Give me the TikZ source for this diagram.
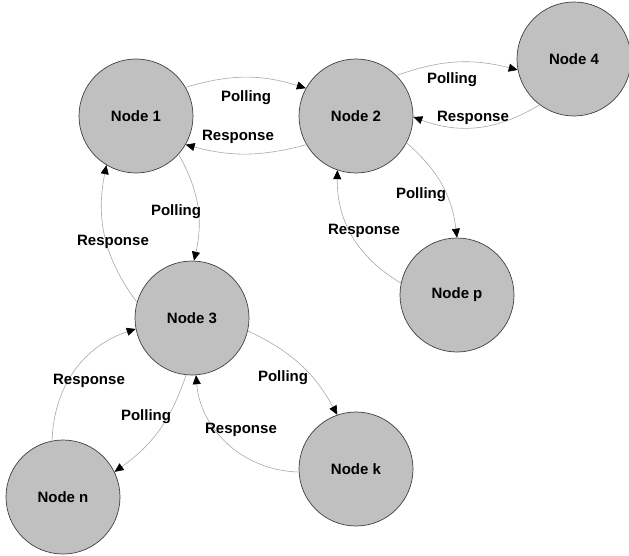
\documentclass[tikz,border=0pt]{standalone}
\usepackage{fontspec}
\setmainfont{Liberation Sans}
\usetikzlibrary{arrows.meta}
\definecolor{nodegray}{HTML}{C0C0C0}
\definecolor{linegray}{HTML}{A8A8A8}
\tikzset{
  station/.style={circle, draw=black!75, line width=0.7pt, fill=nodegray, minimum size=114pt, inner sep=0pt, font=\bfseries\fontsize{15}{18}\selectfont},
  msg/.style={font=\bfseries\fontsize{15}{18}\selectfont, inner sep=0pt, anchor=base},
  link/.style={draw=linegray, line width=0.6pt, -{Triangle[length=9pt,width=8pt,color=black]}}
}
\begin{document}
\begin{tikzpicture}[x=1pt,y=1pt]
                \useasboundingbox ( 0, 0 ) rectangle ( 629, -556 );
% узлы
                \node [station] (n1) at ( 136, -116 ) {Node 1};
                \node [station] (n2) at ( 356, -116 ) {Node 2};
                \node [station] (n4) at ( 574, -59 ) {Node 4};
                \node [station] (np) at ( 457, -295 ) {Node p};
                \node [station] (n3) at ( 192, -318 ) {Node 3};
                \node [station] (nk) at ( 356, -469 ) {Node k};
                \node [station] (nn) at ( 63, -497 ) {Node n};

% опрос и ответ
                \draw [link] (n1.30) to [bend left=17] (n2.151);
                \draw [link] (n2.210) to [bend left=15] (n1.330);
                \draw [link] (n2.45) to [bend left=17] (n4.191);
                \draw [link] (n4.233) to [bend left=26] (n2.359);
                \draw [link] (n2.332) to [bend left=21] (np.90);
                \draw [link] (np.168) to [bend left=30] (n2.251);
                \draw [link] (n1.318) to [bend left=21] (n3.88);
                \draw [link] (n3.164) to [bend left=24] (n1.239);
                \draw [link] (n3.347) to [bend left=18] (nk.109);
                \draw [link] (nk.183) to [bend left=42] (n3.274);
                \draw [link] (n3.264) to [bend left=18] (nn.26);
                \draw [link] (nn.101) to [bend left=35] (n3.191);

% подписи
                \node [msg] (p12) at ( 246, -101.5 ) {Polling};
                \node [msg] (r21) at ( 238, -141 ) {Response};
                \node [msg] (p24) at ( 452, -83.5 ) {Polling};
                \node [msg] (r42) at ( 473, -121.5 ) {Response};
                \node [msg] (p2p) at ( 421, -198.5 ) {Polling};
                \node [msg] (rp2) at ( 364, -234 ) {Response};
                \node [msg] (p13) at ( 176, -215 ) {Polling};
                \node [msg] (r31) at ( 113, -245 ) {Response};
                \node [msg] (p3k) at ( 283, -381.5 ) {Polling};
                \node [msg] (rk3) at ( 241, -433 ) {Response};
                \node [msg] (p3n) at ( 146, -420 ) {Polling};
                \node [msg] (rn3) at ( 89, -384 ) {Response};
\end{tikzpicture}
\end{document}
